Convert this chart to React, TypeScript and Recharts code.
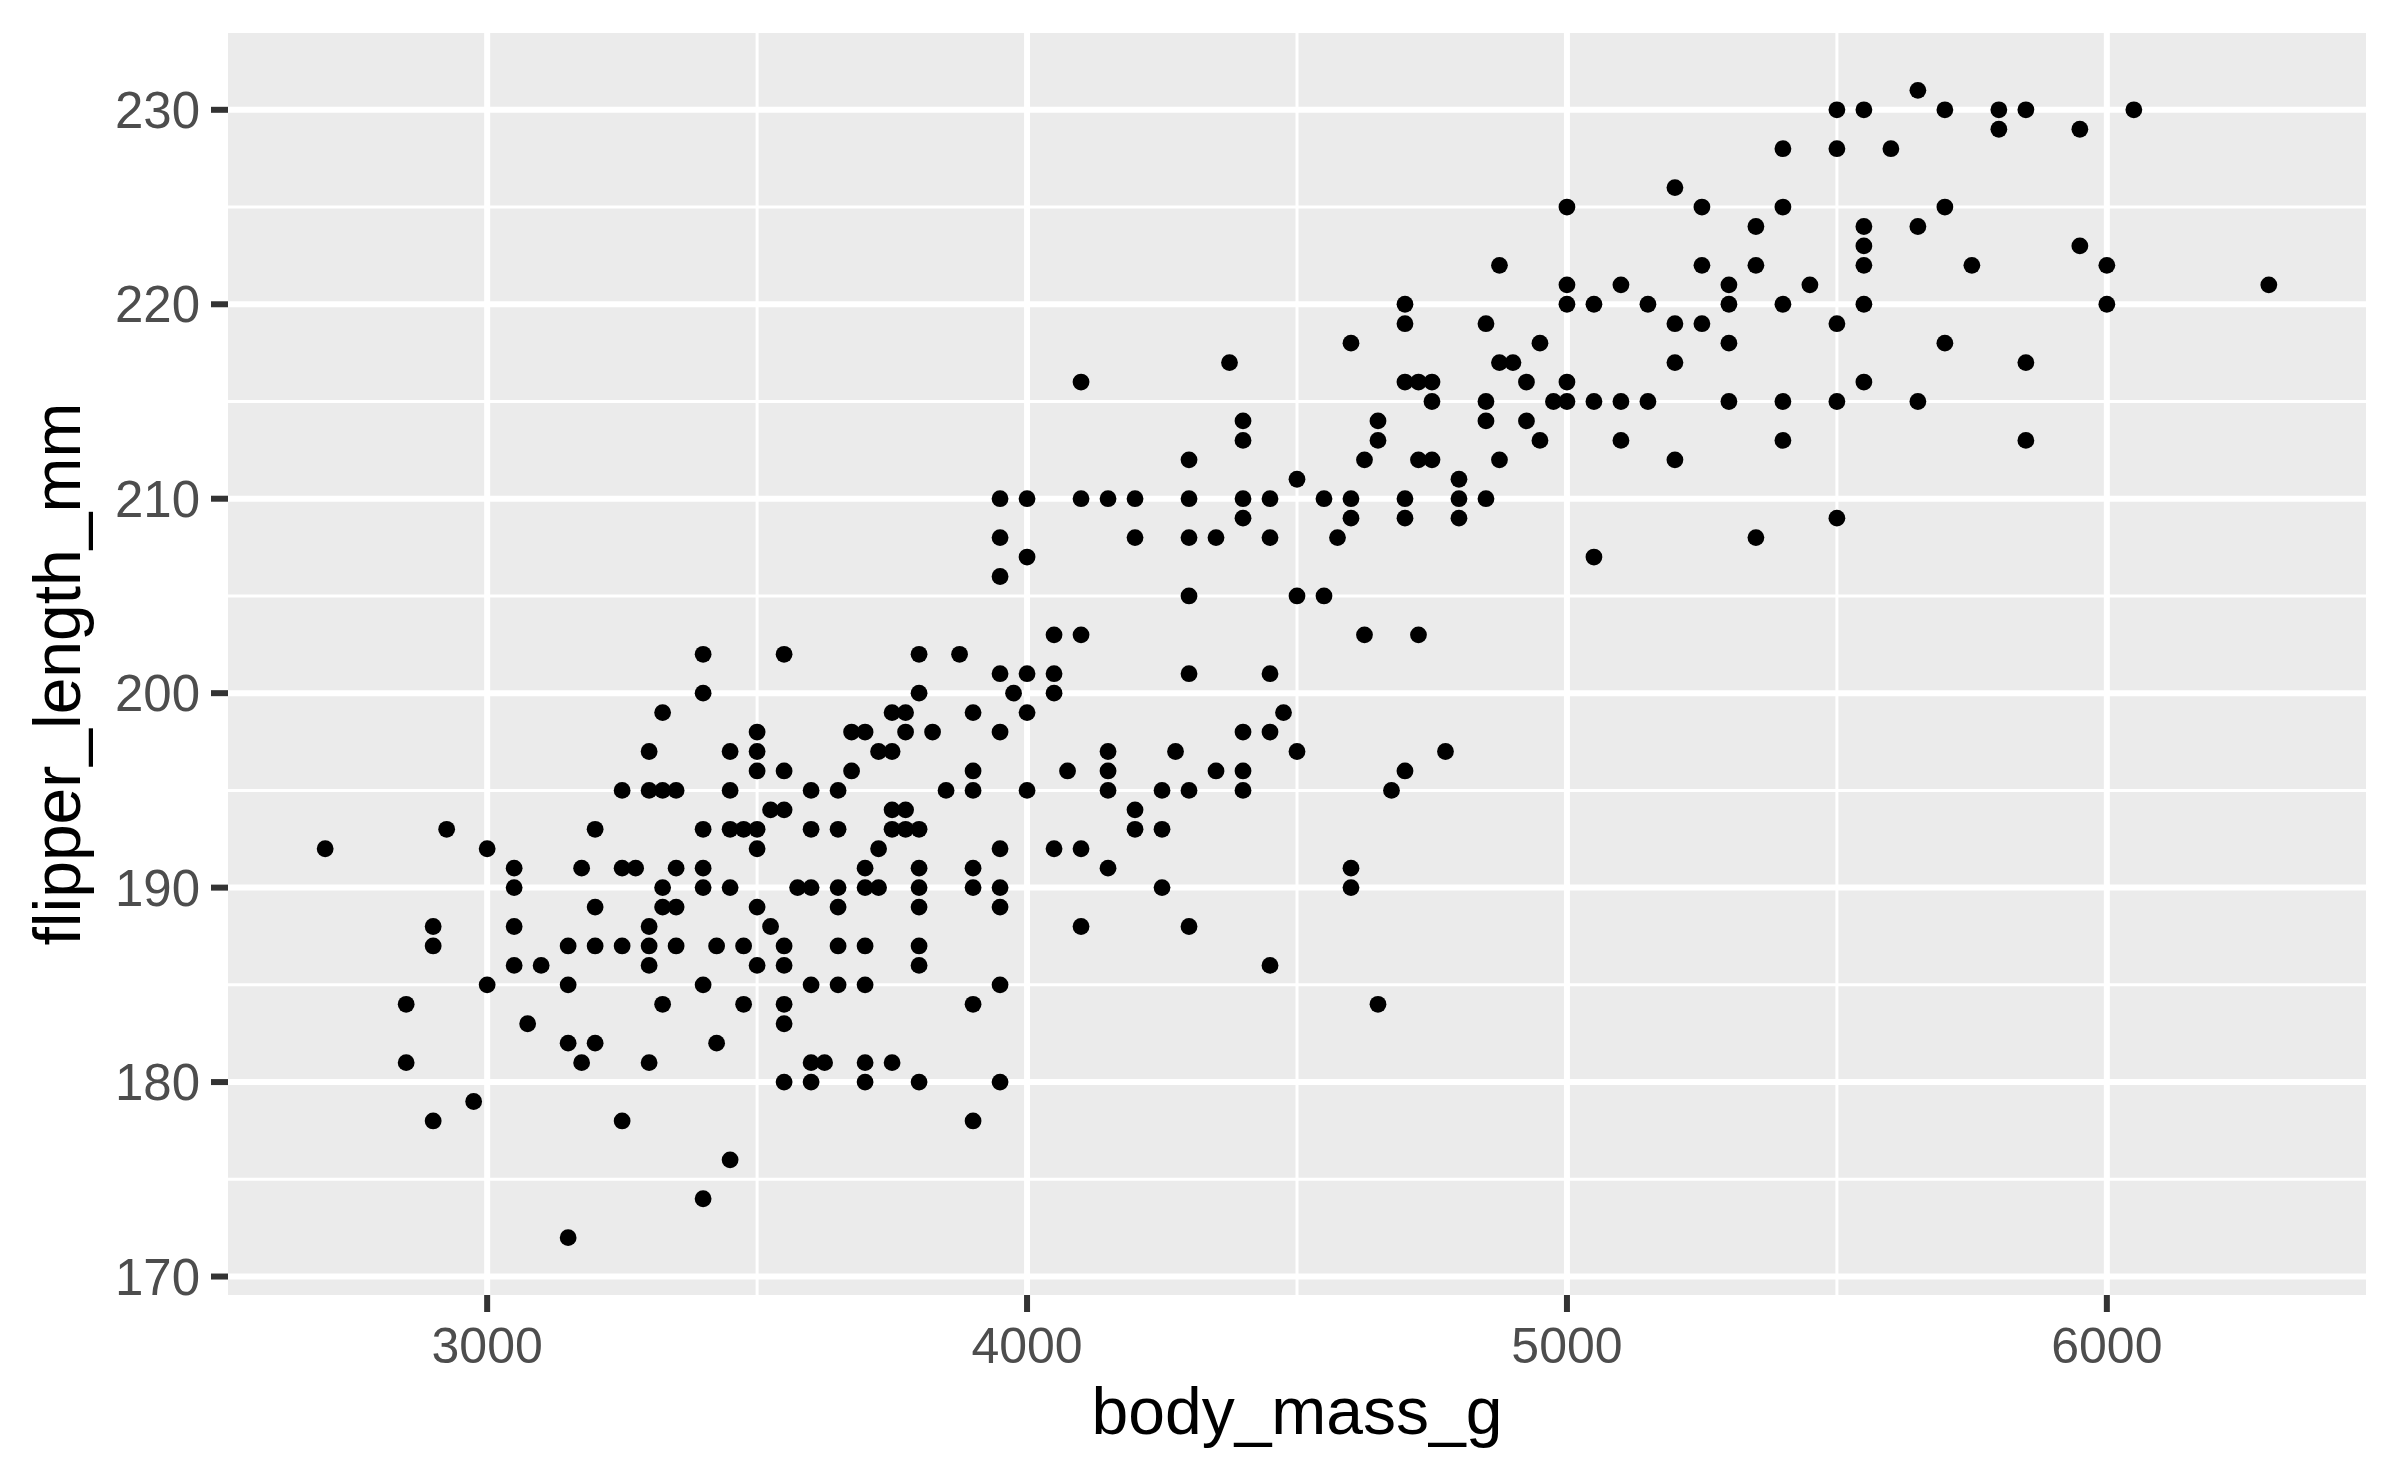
import { ScatterChart, Scatter, XAxis, YAxis, CartesianGrid, Label } from 'recharts';

// body mass levels (g) and the flipper lengths (mm) observed at each level
const bodyMassLevels = [
  2700, 2850, 2900, 2925, 2975, 3000, 3050, 3075, 3100, 3150, 3175, 3200, 3250, 3275, 3300,
  3325, 3350, 3400, 3425, 3450, 3475, 3500, 3525, 3550, 3575, 3600, 3625, 3650, 3675, 3700,
  3725, 3750, 3775, 3800, 3825, 3850, 3875, 3900, 3950, 3975, 4000, 4050, 4075, 4100, 4150,
  4200, 4250, 4275, 4300, 4350, 4375, 4400, 4450, 4475, 4500, 4550, 4575, 4600, 4625, 4650,
  4675, 4700, 4725, 4750, 4775, 4800, 4850, 4875, 4900, 4925, 4950, 4975, 5000, 5050, 5100,
  5150, 5200, 5250, 5300, 5350, 5400, 5450, 5500, 5550, 5600, 5650, 5700, 5750, 5800, 5850,
  5950, 6000, 6050, 6300,
];

const flipperAtMass: number[][] = [
  [192], [184, 181], [188, 187, 178], [193], [179], [192, 185], [191, 190, 188, 186], [183],
  [186], [187, 185, 182, 172], [191, 181], [193, 189, 187, 182], [195, 191, 187, 178], [191],
  [197, 195, 188, 187, 186, 181],
  [199, 195, 190, 189, 184], [195, 191, 189, 187], [202, 200, 193, 191, 190, 185, 174],
  [187, 182], [197, 195, 193, 190, 176], [193, 187, 184], [198, 197, 196, 193, 192, 189, 186],
  [194, 188], [202, 196, 194, 187, 186, 184, 183, 180], [190], [195, 193, 190, 185, 181, 180],
  [181], [195, 193, 190, 189, 187, 185], [198, 196], [198, 191, 190, 187, 185, 181, 180],
  [197, 192, 190], [199, 197, 194, 193, 181], [199, 198, 194, 193],
  [202, 200, 193, 191, 190, 189, 187, 186, 180], [198], [195], [202],
  [199, 196, 195, 191, 190, 184, 178], [210, 208, 206, 201, 198, 192, 190, 189, 185, 180],
  [200], [210, 207, 201, 199, 195], [203, 201, 200, 192], [196], [216, 210, 203, 192, 188],
  [210, 197, 196, 195, 191],
  [210, 208, 194, 193], [195, 193, 190], [197], [212, 210, 208, 205, 201, 195, 188],
  [208, 196], [217], [214, 213, 210, 209, 198, 196, 195], [210, 208, 201, 198, 186], [199],
  [211, 205, 197], [210, 205], [208], [218, 210, 209, 191, 190], [212, 203], [214, 213, 184],
  [195], [220, 219, 216, 210, 209, 196], [216, 212, 203], [216, 215, 212], [197],
  [211, 210, 209], [219, 215, 214, 210], [222, 217, 212], [217], [216, 214], [218, 213],
  [215], [225, 221, 220, 216, 215], [220, 215, 207], [221, 215, 213],
  [220, 215], [226, 219, 217, 212], [225, 222, 219], [221, 220, 218, 215], [224, 222, 208],
  [228, 225, 220, 215, 213], [221], [230, 228, 219, 215, 209], [230, 224, 223, 222, 220, 216],
  [228], [231, 224, 215], [230, 225, 218], [222], [230, 229], [230, 217, 213],
  [229, 223], [222, 220], [230], [221],
];

const xTicks = [3000, 4000, 5000, 6000];
const yTicks = [170, 180, 190, 200, 210, 220, 230];
const xMinor = [3500, 4500, 5500];
const yMinor = [175, 185, 195, 205, 215, 225];

const points = bodyMassLevels.flatMap((m, i) =>
  flipperAtMass[i].map((f) => ({ body_mass_g: m, flipper_length_mm: f }))
);

const FONT = '"Liberation Sans", Arial, sans-serif';

const Dot = (props: any) => <circle cx={props.cx} cy={props.cy} r={8.4} fill="#000000" />;

export default function App() {
  return (
    <div style={{ position: 'absolute', left: 0, top: 0, width: 2400, height: 1483, background: '#ffffff' }}>
      <ScatterChart width={2400} height={1483} margin={{ top: 33, right: 34, bottom: 0, left: 0 }}>
        <CartesianGrid
          fill="#EBEBEB"
          stroke="#ffffff"
          strokeWidth={3}
          horizontalValues={yMinor}
          verticalValues={xMinor}
        />
        <CartesianGrid
          stroke="#ffffff"
          strokeWidth={6}
          horizontalValues={yTicks}
          verticalValues={xTicks}
        />
        <XAxis
          type="number"
          dataKey="body_mass_g"
          domain={[2520, 6480]}
          ticks={xTicks}
          allowDataOverflow
          height={188}
          axisLine={false}
          tickSize={17}
          tickMargin={15}
          tickLine={{ stroke: '#333333', strokeWidth: 6 }}
          tick={{ fill: '#4D4D4D', fontSize: 50, fontFamily: FONT }}
        >
          <Label
            content={({ viewBox }: any) => (
              <text
                x={viewBox.x + viewBox.width / 2}
                y={viewBox.y + 139}
                textAnchor="middle"
                fill="#000000"
                fontSize={66}
                fontFamily={FONT}
              >
                body_mass_g
              </text>
            )}
          />
        </XAxis>
        <YAxis
          type="number"
          dataKey="flipper_length_mm"
          domain={[169.05, 233.95]}
          ticks={yTicks}
          allowDataOverflow
          width={228}
          axisLine={false}
          tickSize={17}
          tickMargin={11}
          tickLine={{ stroke: '#333333', strokeWidth: 6 }}
          tick={{ fill: '#4D4D4D', fontSize: 51, fontFamily: FONT }}
        >
          <Label
            content={({ viewBox }: any) => {
              const cx = 80;
              const cy = viewBox.y + viewBox.height / 2 + 10;
              return (
                <text
                  x={cx}
                  y={cy}
                  transform={`rotate(-90, ${cx}, ${cy})`}
                  textAnchor="middle"
                  fill="#000000"
                  fontSize={66}
                  fontFamily={FONT}
                >
                  flipper_length_mm
                </text>
              );
            }}
          />
        </YAxis>
        <Scatter data={points} shape={Dot} isAnimationActive={false} />
      </ScatterChart>
    </div>
  );
}
